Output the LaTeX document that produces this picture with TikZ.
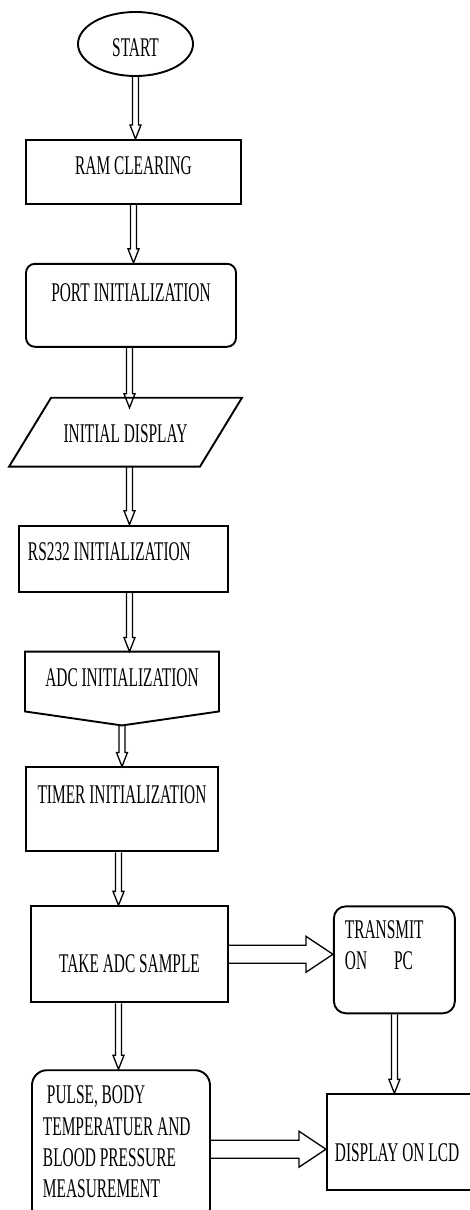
\documentclass[tikz,border=0pt]{standalone}
\usepackage{fontspec}
\setmainfont{Liberation Serif}[FakeStretch=0.57]
\usetikzlibrary{positioning,shapes.geometric,calc}
\tikzset{
  chart/.style={draw, line width=1.9pt, inner xsep=4pt, inner ysep=2pt,
                font=\fontsize{27pt}{31.3pt}\selectfont},
  box/.style={chart, rectangle, text height=18pt, text depth=0pt},
  roundbox/.style={box, rounded corners=9pt},
  textbox/.style={box, rounded corners=#1, align=flush left},
  outline/.style={line width=1.9pt, line join=miter},
  % hollow block arrows, drawn as an outline between two anchors
  downarrow/.style={line width=1.3pt, to path={
    let \p1=(\tikztostart), \p2=(\tikztotarget) in
    (\x1-3pt,\y1) -- (\x1-3pt,\y2+14pt) -- (\x1-5.5pt,\y2+14pt) -- (\x1,\y2)
    -- (\x1+5.5pt,\y2+14pt) -- (\x1+3pt,\y2+14pt) -- (\x1+3pt,\y1)}},
  rightarrow/.style={line width=1.3pt, to path={
    let \p1=(\tikztostart), \p2=(\tikztotarget) in
    (\x1,\y1+9pt) -- (\x2-27pt,\y1+9pt) -- (\x2-27pt,\y1+18pt) -- (\x2,\y1)
    -- (\x2-27pt,\y1-18pt) -- (\x2-27pt,\y1-9pt) -- (\x1,\y1-9pt)}},
}

\begin{document}
\begin{tikzpicture}[node distance=58pt]
\useasboundingbox (-135.5pt,44pt) rectangle (334.5pt,-1166pt);

\node[box, ellipse, minimum width=115pt, minimum height=64pt, text height=24pt] (start) {START};
\node[box, below=62pt of start, xshift=-2pt, minimum width=215pt, minimum height=64pt,
      text depth=12pt] (ram) {RAM CLEARING};
\node[roundbox, below=of ram, xshift=-2.5pt, minimum width=210pt, minimum height=83pt,
      text depth=25pt] (port) {PORT INITIALIZATION};
\node[box, draw=none, below=50pt of port, xshift=-5.5pt, minimum width=189pt, minimum height=67pt,
      text height=21pt] (disp) {INITIAL DISPLAY};
\node[textbox=0pt, below=of disp, xshift=-2pt, minimum height=66pt,
      inner xsep=9pt, text width=191pt, text depth=14pt] (rs) {RS232 INITIALIZATION};
\node[box, draw=none, below=59pt of rs, xshift=-1.5pt, minimum width=192pt, minimum height=58pt,
      text depth=8pt] (adc) {ADC INITIALIZATION};
\coordinate[below=14pt of adc] (adctip);
\node[box, below=55pt of adc, minimum width=192pt, minimum height=84pt,
      text depth=29pt] (timer) {TIMER INITIALIZATION};
\node[box, below=53pt of timer, xshift=7.5pt, minimum width=197pt, minimum height=96pt,
      text height=37pt] (sample) {TAKE ADC SAMPLE};
\node[textbox=12pt, right=104pt of sample.north east, anchor=north west, minimum height=107pt,
      inner xsep=11pt, text width=99pt, text depth=61pt] (transmit) {TRANSMIT\\ON\quad PC};
\node[textbox=15pt, below=66pt of sample, xshift=-8.5pt, minimum height=153pt,
      inner xsep=11pt, text width=156pt, text depth=104pt] (pulse)
      {\hspace*{4pt}PULSE, BODY\\TEMPERATUER AND\\BLOOD PRESSURE\\MEASUREMENT};
\node[textbox=0pt, below=79pt of transmit.south west, anchor=north west, xshift=-7pt,
      minimum height=96pt, inner xsep=8pt, text width=134pt,
      text height=39pt] (lcd) {DISPLAY ON LCD};

% slanted input box and off-page connector round their nodes
\draw[outline] ([xshift=21pt]disp.north west) -- ([xshift=21pt]disp.north east)
  -- ([xshift=-21pt]disp.south east) -- ([xshift=-21pt]disp.south west) -- cycle;
\draw[outline] (adc.north west) -- (adc.north east) -- (adc.south east)
  -- (adctip) -- (adc.south west) -- cycle;

\draw[downarrow] (start.south) to (ram.north);
\draw[downarrow] (ram.south) to (port.north);
\draw[downarrow] ([xshift=-1.5pt]port.south) to ([yshift=-10pt]disp.north);
\draw[downarrow] ([xshift=4pt]disp.south) to (rs.north);
\draw[downarrow] ([xshift=6pt]rs.south) to (adc.north);
\draw[downarrow] (adctip) to (timer.north);
\draw[downarrow] ([xshift=-3.5pt]timer.south) to (sample.north);
\draw[downarrow] ([xshift=-11pt]sample.south) to (pulse.north);
\draw[downarrow] (transmit.south) to (lcd.north);
\draw[rightarrow] (sample.east) to (transmit.west);
\draw[rightarrow] ([yshift=-2.5pt]pulse.east) to (lcd.west);
\end{tikzpicture}
\end{document}
